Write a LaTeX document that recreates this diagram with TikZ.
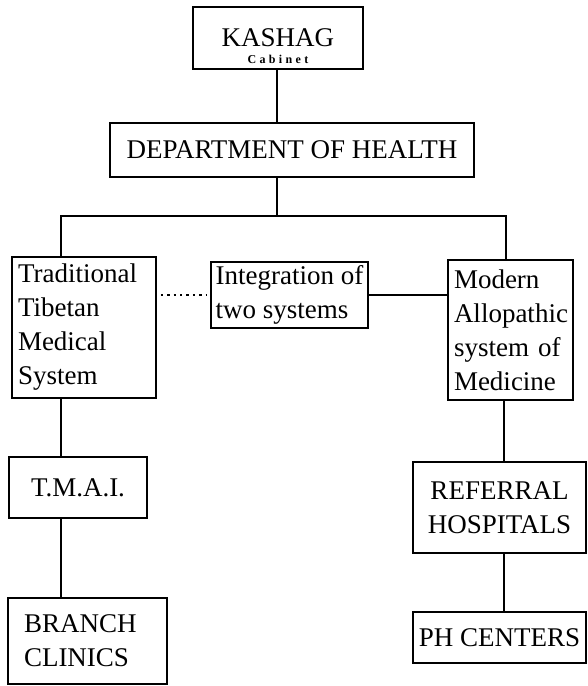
\documentclass[tikz,border=0pt]{standalone}
\usepackage{fontspec}
\setmainfont{Liberation Serif}
\usetikzlibrary{positioning}
\newcommand{\cabfont}{\fontsize{12}{13}\selectfont\bfseries\addfontfeature{LetterSpace=28}}

\begin{document}
\begin{tikzpicture}[x=1pt,y=-1pt,
  every node/.style={font=\fontsize{27}{34}\selectfont},
  unit/.style={draw,line width=1.6pt,inner sep=0pt},
  lefttext/.style={align=left,inner xsep=6pt,inner ysep=0pt},
  link/.style={line width=1.6pt}]
  \useasboundingbox (0,0) rectangle (588,686);
  % top of the chart
  \node[unit,minimum width=170,minimum height=62,align=center] (kashag) at (278,38)
    {\rule{0pt}{35pt}KASHAG\\[-17pt]{\cabfont Cabinet}};
  \node[unit,minimum width=364,minimum height=54] (dept) at (292,150) {DEPARTMENT OF HEALTH};
  % the two systems
  \node[unit,lefttext,text width=132,minimum height=141] (trad) at (84,327.5)
    {Traditional\\Tibetan\\Medical\\System};
  \node[unit,align=left,minimum width=157,minimum height=66] (integ) at (289.5,295)
    {Integration of\\two systems};
  \node[unit,lefttext,text width=113,minimum height=140] (modern) at (510.5,330)
    {Modern\\Allopathic\\system of\\Medicine};
  % lower levels
  \node[unit,minimum width=138,minimum height=61] (tmai) at (78,487.5) {T.M.A.I.};
  \node[unit,align=left,inner xsep=16pt,text width=127,minimum height=86] (branch) at (87.5,641)
    {BRANCH\\CLINICS};
  \node[unit,align=center,minimum width=173,minimum height=91] (referral) at (499.5,507.5)
    {REFERRAL\\HOSPITALS};
  \node[unit,minimum width=173,minimum height=51] (ph) at (499.5,637.5) {PH CENTERS};
  % connectors
  \coordinate (fork) at (277,216);
  \coordinate (lspine) at (61,216);
  \coordinate (rspine) at (506,216);
  \coordinate (rdrop) at (504,0);
  \draw[link] (kashag.south -| fork) -- (dept.north -| fork);
  \draw[link] (dept.south -| fork) -- (fork);
  \draw[link] (lspine |- trad.north) -- (lspine) -- (rspine) -- (rspine |- modern.north);
  \draw[line width=2.6pt,dash pattern=on 2.4pt off 4pt,shorten <=4pt,shorten >=4pt]
    (integ.west -| trad.east) -- (integ.west);
  \draw[link] (integ.east) -- (integ.east -| modern.west);
  \draw[link] (trad.south -| lspine) -- (tmai.north -| lspine);
  \draw[link] (tmai.south -| lspine) -- (branch.north -| lspine);
  \draw[link] (modern.south -| rdrop) -- (referral.north -| rdrop);
  \draw[link] (referral.south -| rdrop) -- (ph.north -| rdrop);
\end{tikzpicture}
\end{document}
